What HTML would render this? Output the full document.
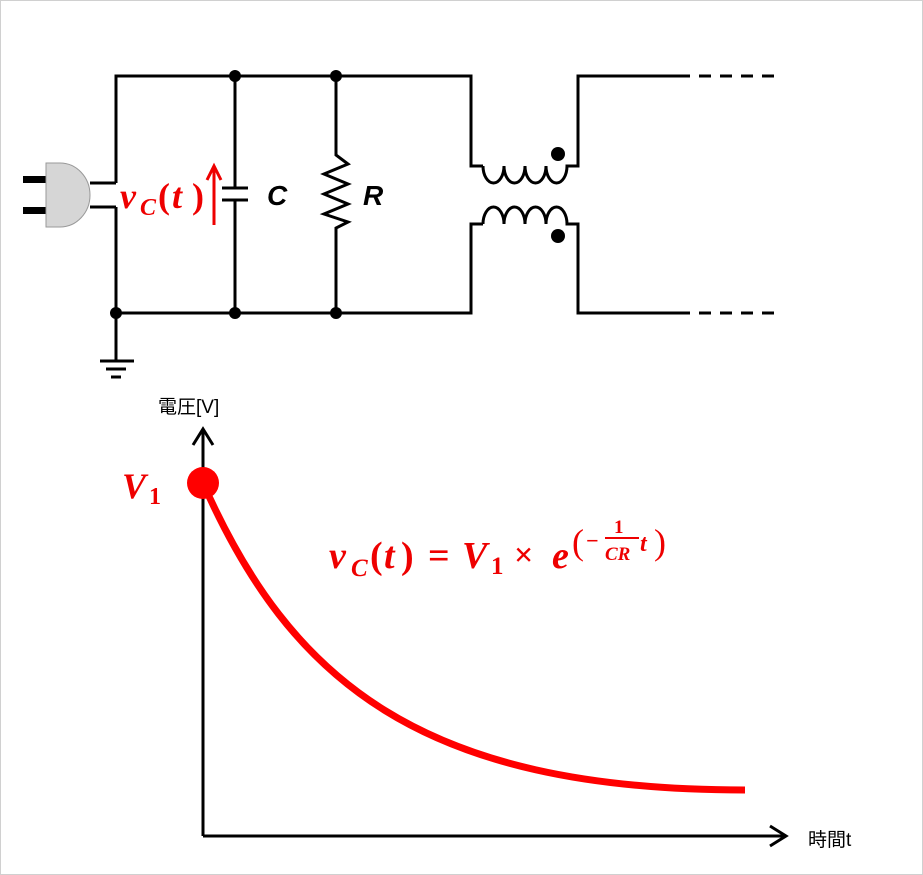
<!DOCTYPE html>
<html><head><meta charset="utf-8"><style>
html,body{margin:0;padding:0;background:#fff}
svg{display:block}
</style></head><body>
<svg width="923" height="875" viewBox="0 0 923 875" xmlns="http://www.w3.org/2000/svg">
<rect x="0.5" y="0.5" width="922" height="874" fill="#fff" stroke="#d0d0d0"/>
<g stroke="#000" stroke-width="3" fill="none" stroke-linejoin="miter">
<path d="M116,183 V76 H471 V166 H483"/>
<path d="M116,207 V313 H471 V224 H483"/>
<path d="M90,183 H116 M90,207 H116"/>
<path d="M235,76 V188 M222,188 H248 M222,200 H248 M235,200 V313"/>
<path d="M336,76 V155 L348,164 L324,174 L348,184 L324,194 L348,204 L324,214 L348,222 L336,228 V313"/>
<path d="M116,313 V361 M100,361 H134 M106,369 H126 M111,377 H121"/>
<path d="M483,166 a10.5,17 0 0 0 21,0 a10.5,17 0 0 0 21,0 a10.5,17 0 0 0 21,0 a10.5,17 0 0 0 21,0 H578 V76 H678"/>
<path d="M483,224 a10.5,17 0 0 1 21,0 a10.5,17 0 0 1 21,0 a10.5,17 0 0 1 21,0 a10.5,17 0 0 1 21,0 H578 V313 H678"/>
<path d="M678,76 H780 M678,313 H780" stroke-dasharray="12,9"/>
</g>
<g fill="#000">
<circle cx="235" cy="76" r="6"/><circle cx="336" cy="76" r="6"/>
<circle cx="116" cy="313" r="6"/><circle cx="235" cy="313" r="6"/><circle cx="336" cy="313" r="6"/>
<circle cx="558" cy="154" r="7"/><circle cx="558" cy="236" r="7"/>
<rect x="23" y="176" width="24" height="7"/><rect x="23" y="207" width="24" height="7"/>
</g>
<path d="M46,163 H60 A30,32 0 0 1 60,227 H46 Z" fill="#d6d6d6" stroke="#999" stroke-width="1"/>
<text x="267" y="205" font-family="Liberation Sans, sans-serif" font-weight="bold" font-style="italic" font-size="28">C</text>
<text x="363" y="205" font-family="Liberation Sans, sans-serif" font-weight="bold" font-style="italic" font-size="28">R</text>
<g font-family="Liberation Serif, serif" font-weight="bold" font-style="italic" fill="#e00">
<text x="120" y="208" font-size="36">v</text>
<text x="140" y="215" font-size="24">C</text>
<text x="158" y="208" font-size="36" font-style="normal">(</text>
<text x="172" y="208" font-size="36">t</text>
<text x="192" y="208" font-size="36" font-style="normal">)</text>
</g>
<g stroke="#e00" stroke-width="3" fill="none"><path d="M214,225 V168 M207,180 L214,166 L221,180"/></g>
<g stroke="#000" stroke-width="3" fill="none">
<path d="M203,836 V429 M193,445 L203,429 L213,445"/>
<path d="M203,836 H786 M770,826 L786,836 L770,846"/>
</g>
<text x="158" y="413" font-family="Liberation Sans, 'Noto Sans CJK JP', sans-serif" font-size="19">電圧[V]</text>
<text x="808" y="846" font-family="Liberation Sans, 'Noto Sans CJK JP', sans-serif" font-size="19">時間t</text>
<path d="M203,483 C290,680 420,790 745,790" stroke="#f00" stroke-width="7" fill="none"/>
<circle cx="203" cy="483" r="16" fill="#f00"/>
<g font-family="Liberation Serif, serif" font-weight="bold" font-style="italic" fill="#e00">
<text x="122" y="498" font-size="36">V</text>
<text x="149" y="504" font-size="24" font-style="normal">1</text>
<text x="329" y="568" font-size="38">v</text>
<text x="351" y="576" font-size="25">C</text>
<text x="370" y="568" font-size="38" font-style="normal">(</text>
<text x="384" y="568" font-size="38">t</text>
<text x="401" y="568" font-size="38" font-style="normal">)</text>
<text x="428" y="568" font-size="38" font-style="normal">=</text>
<text x="462" y="568" font-size="38">V</text>
<text x="491" y="574" font-size="25" font-style="normal">1</text>
<text x="514" y="566" font-size="34" font-style="normal">×</text>
<text x="552" y="568" font-size="38">e</text>
<text x="572" y="554" font-size="36" font-style="normal" font-weight="normal">(</text>
<text x="654" y="554" font-size="36" font-style="normal" font-weight="normal">)</text>
<text x="586" y="548" font-size="22" font-style="normal">−</text>
<text x="614" y="533" font-size="19" font-style="normal">1</text>
<text x="605" y="560" font-size="19">CR</text>
<text x="640" y="551" font-size="24">t</text>
</g>
<line x1="605" y1="538" x2="639" y2="538" stroke="#e00" stroke-width="2"/>
</svg>
</body></html>
